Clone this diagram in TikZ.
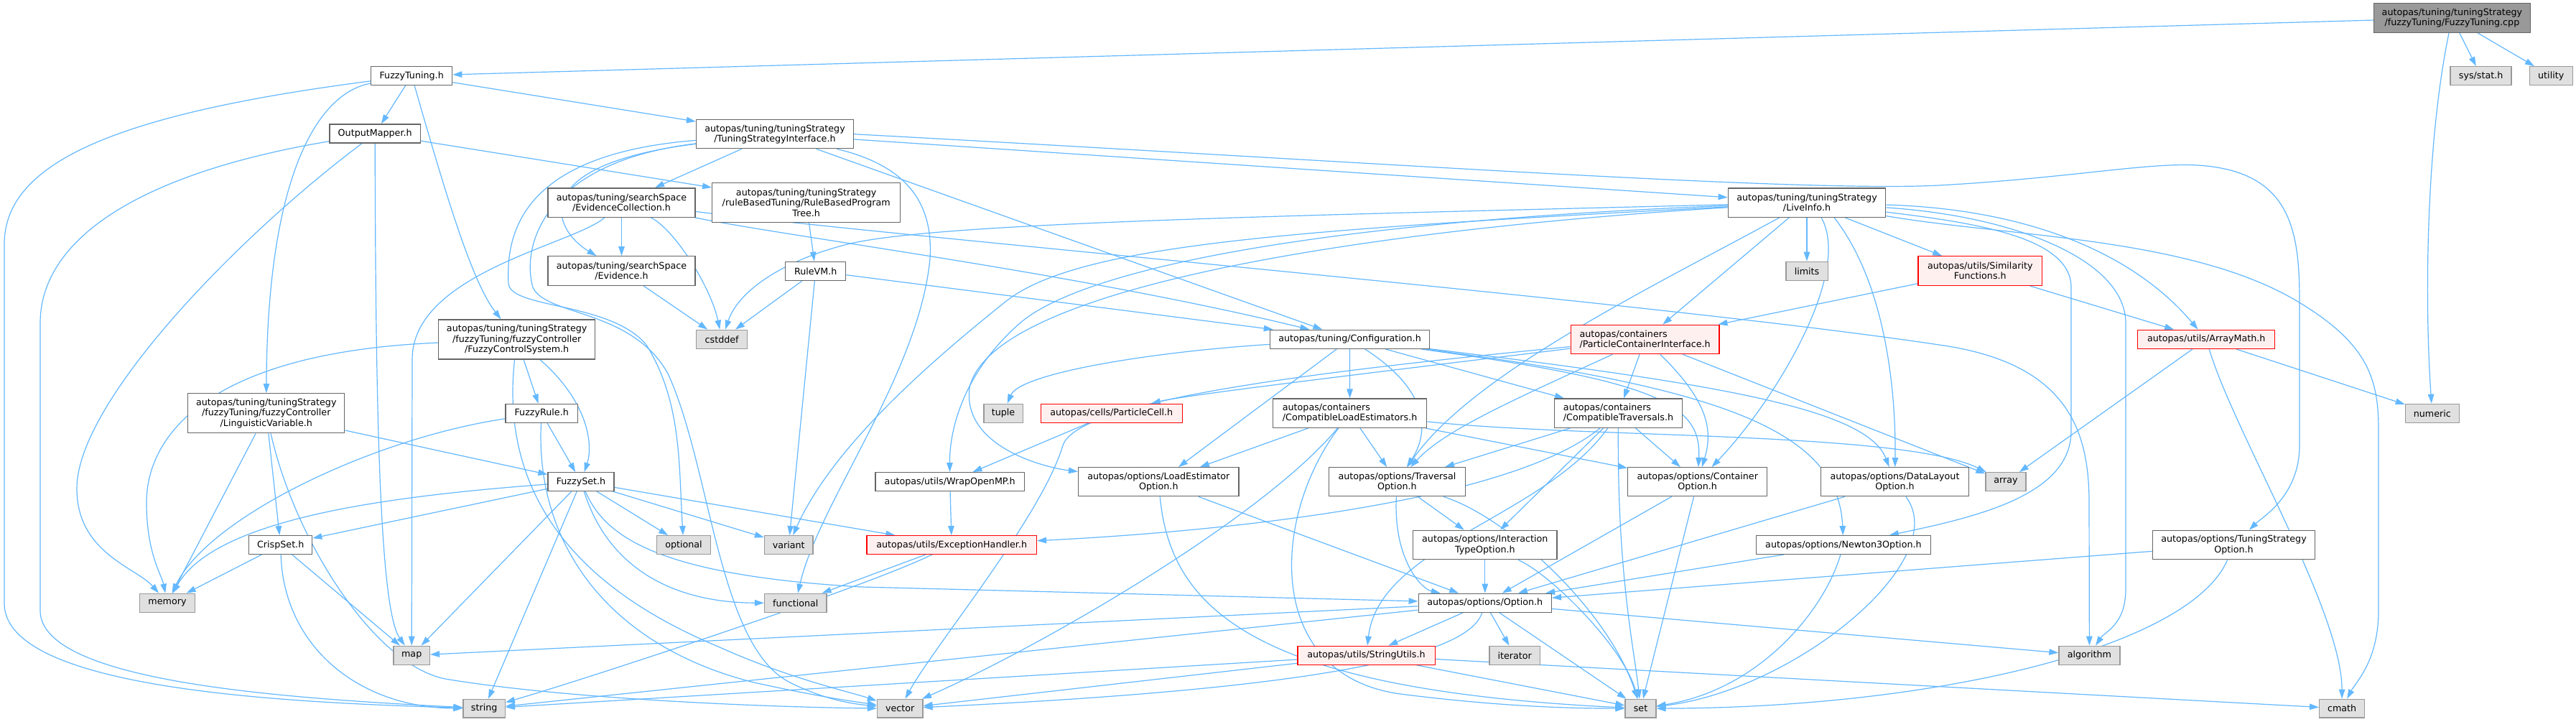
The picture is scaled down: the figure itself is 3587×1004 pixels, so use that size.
\documentclass[tikz,border=0pt]{standalone}
\usepackage{fontspec}
\setmainfont{DejaVu Sans}
\usetikzlibrary{arrows.meta}
\definecolor{eb}{HTML}{63B8FF}
\definecolor{gb}{HTML}{666666}
\definecolor{sb}{HTML}{999999}
\definecolor{sf}{HTML}{E0E0E0}
\definecolor{rf}{HTML}{FFF0F0}
\definecolor{rb}{HTML}{FF0000}
\pgfdeclarelayer{bg}
\pgfsetlayers{bg,main}
\tikzset{
  n/.style={draw=gb, fill=white, line width=1.3pt, inner sep=0pt, align=center,
    font=\fontsize{12.7}{14.3}\selectfont},
  sysn/.style={n, draw=sb, fill=sf},
  redn/.style={n, draw=rb, fill=rf},
  rootn/.style={n, draw=gb, fill=sb},
  B/.style 2 args={minimum width=#1pt, minimum height=#2pt},
  e/.style={draw=eb, line width=1.2pt, -{Triangle[length=13pt,width=8.5pt]}},
}
\begin{document}
\begin{tikzpicture}[x=1pt,y=1pt]
\useasboundingbox (0,0) rectangle (3587,-1004);
% nodes
\node[rootn,B={218}{40.6}] (cpp) at (3414.4,-25) {autopas/tuning/tuningStrategy\\/fuzzyTuning/FuzzyTuning.cpp};
\node[n,B={113}{25.6}] (ft) at (573.2,-105.5) {FuzzyTuning.h};
\node[sysn,B={85}{26}] (sys) at (3454.6,-105.7) {sys/stat.h};
\node[sysn,B={60}{26}] (util) at (3552.2,-105.7) {utility};
\node[n,B={126.4}{26}] (om) at (522.2,-186) {OutputMapper.h};
\node[n,B={219}{40}] (tsi) at (1079,-186.7) {autopas/tuning/tuningStrategy\\/TuningStrategyInterface.h};
\node[n,B={205}{40.3}] (ec) at (865.5,-282) {autopas/tuning/searchSpace\\/EvidenceCollection.h};
\node[n,B={262}{55}] (rbpt) at (1122.7,-282) {autopas/tuning/tuningStrategy\\/ruleBasedTuning/RuleBasedProgram\\Tree.h};
\node[n,B={219.5}{40.3}] (li) at (2516,-282) {autopas/tuning/tuningStrategy\\/LiveInfo.h};
\node[n,B={205}{40.6}] (ev) at (865.5,-377) {autopas/tuning/searchSpace\\/Evidence.h};
\node[n,B={84.2}{26}] (rvm) at (1135.7,-377.3) {RuleVM.h};
\node[sysn,B={58.3}{26}] (lim) at (2516,-377.3) {limits};
\node[redn,B={172.6}{40.6}] (sim) at (2757.3,-377) {autopas/utils/Similarity\\Functions.h};
\node[n,B={218}{55}] (fcs) at (719.7,-472.5) {autopas/tuning/tuningStrategy\\/fuzzyTuning/fuzzyController\\/FuzzyControlSystem.h};
\node[sysn,B={71.2}{26}] (cst) at (1005.2,-472.3) {cstddef};
\node[n,B={222}{26}] (conf) at (1879.5,-472.3) {autopas/tuning/Configuration.h};
\node[redn,B={206.7}{40.4},align=left] (pci) at (2290.6,-472.5) {autopas/containers\\/ParticleContainerInterface.h};
\node[redn,B={190.8}{26}] (am) at (3072.2,-472.3) {autopas/utils/ArrayMath.h};
\node[n,B={218}{55}] (lv) at (370.8,-575.2) {autopas/tuning/tuningStrategy\\/fuzzyTuning/fuzzyController\\/LinguisticVariable.h};
\node[n,B={100.3}{26}] (fr) at (754.2,-575.3) {FuzzyRule.h};
\node[sysn,B={54.3}{26}] (tup) at (1397,-575.3) {tuple};
\node[redn,B={196.7}{26}] (pc) at (1547.8,-575.3) {autopas/cells/ParticleCell.h};
\node[n,B={214.3}{40.3},align=left] (cle) at (1879.6,-575.2) {autopas/containers\\/CompatibleLoadEstimators.h};
\node[n,B={178.3}{40.3},align=left] (ctr) at (2253.5,-575.2) {autopas/containers\\/CompatibleTraversals.h};
\node[sysn,B={75}{26}] (num) at (3386.8,-575.3) {numeric};
\node[n,B={92}{25.6}] (fs) at (809,-670.5) {FuzzySet.h};
\node[n,B={207.5}{25.6}] (womp) at (1322.7,-670.5) {autopas/utils/WrapOpenMP.h};
\node[n,B={223.5}{40}] (leo) at (1613.3,-670.7) {autopas/options/LoadEstimator\\Option.h};
\node[n,B={189.8}{40}] (to) at (1945.4,-670.7) {autopas/options/Traversal\\Option.h};
\node[n,B={194}{40}] (co) at (2363.7,-670.7) {autopas/options/Container\\Option.h};
\node[n,B={206}{40}] (dlo) at (2638.5,-670.7) {autopas/options/DataLayout\\Option.h};
\node[sysn,B={56}{25.6}] (arr) at (2792.9,-670.5) {array};
\node[n,B={88}{25.6}] (cs) at (390.7,-758.5) {CrispSet.h};
\node[sysn,B={75}{25.6}] (opt) at (952,-758.5) {optional};
\node[sysn,B={67.4}{25.6}] (var) at (1098.2,-758.5) {variant};
\node[redn,B={236.5}{25.6}] (eh) at (1325.2,-758.5) {autopas/utils/ExceptionHandler.h};
\node[n,B={200.5}{40.4}] (ito) at (2067.8,-758.5) {autopas/options/Interaction\\TypeOption.h};
\node[n,B={243}{25.6}] (n3o) at (2566.9,-758.5) {autopas/options/Newton3Option.h};
\node[n,B={226.3}{40.4}] (tso) at (3110.5,-758.5) {autopas/options/TuningStrategy\\Option.h};
\node[sysn,B={77.3}{26}] (mem) at (233,-839.3) {memory};
\node[sysn,B={86.5}{26}] (fun) at (1107.8,-839.3) {functional};
\node[n,B={185.2}{26}] (opn) at (2067.8,-839.3) {autopas/options/Option.h};
\node[sysn,B={84.9}{26}] (alg) at (2909.4,-912.3) {algorithm};
\node[sysn,B={50.5}{26}] (map) at (573.2,-912.3) {map};
\node[redn,B={191.3}{26}] (su) at (1902.5,-912.3) {autopas/utils/StringUtils.h};
\node[sysn,B={70.4}{26}] (it) at (2109.2,-912.3) {iterator};
\node[sysn,B={58.3}{25.7}] (str) at (674.2,-986.2) {string};
\node[sysn,B={63.5}{25.7}] (vec) at (1253.2,-986.2) {vector};
\node[sysn,B={42.9}{25.7}] (set) at (2284.5,-986.2) {set};
\node[sysn,B={62.8}{25.7}] (cmath) at (3261.1,-986.2) {cmath};
\begin{pgfonlayer}{bg}
\fill[white] (0,0) rectangle (3587,-1004);
% cpp
\draw[e] (cpp) -- (ft);
\draw[e] (cpp) -- (sys);
\draw[e] (cpp) -- (util);
\draw[e] (cpp) .. controls (3378,-200) and (3376,-420) .. (num);
% ft
\draw[e] (ft) -- (om);
\draw[e] (ft) -- (tsi);
\draw[e] (ft) .. controls (615,-250) and (655,-390) .. (fcs);
\draw[e] (ft) .. controls (440,-130) and (372,-250) .. (lv);
\draw[e] (ft) .. controls (150,-160) and (6,-230) .. (6,-340) -- (6,-840) .. controls (6,-960) and (400,-978) .. (str);
% om
\draw[e] (om) -- (rbpt);
\draw[e] (om) .. controls (523,-600) and (530,-850) .. (map);
\draw[e] (om) .. controls (200,-240) and (56,-330) .. (56,-450) -- (56,-850) .. controls (56,-950) and (400,-972) .. (str);
\draw[e] (om) .. controls (330,-330) and (107,-560) .. (107,-680) .. controls (107,-770) and (190,-790) .. (mem);
% tsi
\draw[e] (tsi) -- (ec);
\draw[e] (tsi) -- (li);
\draw[e] (tsi) -- (conf);
\draw[e] (tsi.east) .. controls (1900,-225) and (2500,-268) .. (2700,-258) .. controls (2880,-248) and (2990,-226) .. (3060,-230) .. controls (3190,-238) and (3202,-320) .. (3202,-420) -- (3202,-620) .. controls (3202,-690) and (3150,-720) .. (tso);
\draw[e] (tsi) .. controls (730,-230) and (770,-320) .. (ev);
\draw[e] (tsi) .. controls (720,-215) and (705,-330) .. (708,-395) .. controls (712,-430) and (850,-420) .. (900,-480) .. controls (950,-560) and (945,-650) .. (opt);
\draw[e] (tsi) .. controls (760,-225) and (725,-340) .. (742,-400) .. controls (760,-440) and (880,-430) .. (930,-520) .. controls (990,-650) and (1000,-900) .. (1100,-950) .. controls (1150,-975) and (1190,-980) .. (vec);
\draw[e] (tsi) .. controls (1260,-230) and (1300,-280) .. (1295,-360) .. controls (1280,-520) and (1140,-700) .. (fun);
% ec
\draw[e] (ec) -- (ev);
\draw[e] (ec) .. controls (940,-320) and (990,-400) .. (cst);
\draw[e] (ec) .. controls (1100,-330) and (1500,-380) .. (conf);
\draw[e] (ec) .. controls (1300,-335) and (2300,-420) .. (2700,-480) .. controls (2880,-505) and (2909,-600) .. (2909,-700) -- (alg);
\draw[e] (ec) .. controls (800,-340) and (574,-380) .. (574,-500) -- (map);
\draw[e] (ev) -- (cst);
\draw[e] (rbpt) -- (rvm);
\draw[e] (rvm) -- (cst);
\draw[e] (rvm) -- (conf);
\draw[e] (rvm) -- (var);
% fcs
\draw[e] (fcs) -- (fr);
\draw[e] (fcs) .. controls (820,-560) and (826,-620) .. (fs);
\draw[e] (fcs) .. controls (300,-490) and (204,-600) .. (204,-700) .. controls (204,-770) and (225,-800) .. (mem);
\draw[e] (fcs) .. controls (700,-650) and (760,-800) .. (1000,-900) .. controls (1100,-945) and (1180,-962) .. (vec);
% lv
\draw[e] (lv) -- (fs);
\draw[e] (lv) -- (cs);
\draw[e] (lv) -- (mem);
\draw[e] (lv) .. controls (410,-750) and (520,-925) .. (620,-945) .. controls (800,-975) and (1100,-985) .. (vec);
% fr
\draw[e] (fr) -- (fs);
\draw[e] (fr) .. controls (520,-610) and (290,-720) .. (mem);
\draw[e] (fr) .. controls (745,-760) and (850,-900) .. (1050,-950) .. controls (1150,-972) and (1200,-978) .. (vec);
% fs
\draw[e] (fs) -- (cs);
\draw[e] (fs) .. controls (550,-690) and (300,-720) .. (mem);
\draw[e] (fs) -- (map);
\draw[e] (fs) -- (str);
\draw[e] (fs) -- (opt);
\draw[e] (fs) -- (var);
\draw[e] (fs) .. controls (850,-800) and (950,-839) .. (fun);
\draw[e] (fs) .. controls (840,-740) and (900,-800) .. (1200,-817) -- (opn);
\draw[e] (fs) -- (eh);
% cs
\draw[e] (cs) -- (mem);
\draw[e] (cs) -- (map);
\draw[e] (cs) .. controls (395,-900) and (500,-985) .. (str);
\draw[e] (pc) -- (womp);
\draw[e] (womp) -- (eh);
% cle
\draw[e] (cle) -- (leo);
\draw[e] (cle) -- (to);
\draw[e] (cle) -- (co);
\draw[e] (cle) .. controls (1760,-720) and (1450,-900) .. (vec);
\draw[e] (cle) .. controls (1770,-720) and (1760,-940) .. (1950,-966) .. controls (2100,-985) and (2200,-986) .. (set);
\draw[e] (cle) .. controls (2200,-610) and (2650,-600) .. (arr);
% ctr
\draw[e] (ctr) -- (to);
\draw[e] (ctr) -- (co);
\draw[e] (ctr) -- (ito);
\draw[e] (ctr) .. controls (2150,-720) and (1920,-760) .. (su);
\draw[e] (ctr) .. controls (2252,-800) and (2275,-900) .. (set);
\draw[e] (ctr) .. controls (2100,-700) and (1700,-740) .. (eh);
% pci
\draw[e] (pci) -- (ctr);
\draw[e] (pci) .. controls (2380,-560) and (2385,-600) .. (co);
\draw[e] (pci) .. controls (2100,-560) and (2010,-600) .. (to);
\draw[e] (pci) -- (arr);
\draw[e] (pci) .. controls (1900,-520) and (1650,-550) .. (pc);
\draw[e] (pci) .. controls (1800,-520) and (1500,-560) .. (1480,-620) .. controls (1450,-720) and (1300,-900) .. (vec);
% conf
\draw[e] (conf) .. controls (1600,-490) and (1420,-520) .. (tup);
\draw[e] (conf) -- (leo);
\draw[e] (conf) -- (cle);
\draw[e] (conf) .. controls (2000,-550) and (1985,-610) .. (to);
\draw[e] (conf) -- (ctr);
\draw[e] (conf) .. controls (2300,-530) and (2370,-560) .. (co);
\draw[e] (conf) .. controls (2400,-535) and (2600,-570) .. (dlo);
\draw[e] (conf) .. controls (2400,-540) and (2560,-600) .. (n3o);
% options
\draw[e] (leo) -- (opn);
\draw[e] (leo) .. controls (1630,-850) and (1750,-960) .. (set);
\draw[e] (to) -- (ito);
\draw[e] (to) .. controls (1940,-780) and (1980,-820) .. (opn);
\draw[e] (to) .. controls (2100,-720) and (2240,-850) .. (set);
\draw[e] (co) -- (opn);
\draw[e] (co) -- (set);
\draw[e] (dlo) -- (opn);
\draw[e] (dlo) .. controls (2720,-780) and (2500,-960) .. (set);
\draw[e] (n3o) -- (opn);
\draw[e] (n3o) .. controls (2540,-850) and (2450,-960) .. (set);
\draw[e] (ito) -- (opn);
\draw[e] (ito) .. controls (2160,-800) and (2260,-900) .. (set);
\draw[e] (tso) -- (opn);
\draw[e] (tso) .. controls (3050,-900) and (2700,-985) .. (set);
\draw[e] (eh) .. controls (1200,-820) and (800,-950) .. (str);
\draw[e] (eh) -- (fun);
\draw[e] (opn) -- (map);
\draw[e] (opn) -- (str);
\draw[e] (opn) -- (su);
\draw[e] (opn) .. controls (2040,-930) and (1700,-965) .. (vec);
\draw[e] (opn) -- (it);
\draw[e] (opn) -- (set);
\draw[e] (opn) -- (alg);
\draw[e] (su) -- (str);
\draw[e] (su) -- (vec);
\draw[e] (su) -- (set);
\draw[e] (su) -- (cmath);
\draw[e] (am) -- (arr);
\draw[e] (am) -- (num);
\draw[e] (am) .. controls (3110,-600) and (3261,-850) .. (cmath);
\draw[e] (sim) -- (pci);
\draw[e] (sim) -- (am);
% li
\draw[e] (li) -- (lim);
\draw[e] (li) -- (sim);
\draw[e] (li) -- (pci);
\draw[e] (li) .. controls (2800,-290) and (2960,-340) .. (am);
\draw[e] ([xshift=20pt]li.south) .. controls (2580,-380) and (2470,-560) .. (co);
\draw[e] ([xshift=38pt]li.south) .. controls (2630,-400) and (2640,-560) .. (dlo);
\draw[e] (li) .. controls (2750,-310) and (2884,-330) .. (2884,-400) -- (2884,-600) .. controls (2884,-690) and (2750,-720) .. (n3o);
\draw[e] (li) .. controls (2300,-400) and (2050,-520) .. (to);
\draw[e] (li) .. controls (1900,-320) and (1380,-400) .. (1350,-540) .. controls (1340,-620) and (1450,-650) .. (leo);
\draw[e] (li) .. controls (1800,-310) and (1500,-380) .. (1420,-450) .. controls (1340,-520) and (1322,-600) .. (womp);
\draw[e] (li) .. controls (1800,-300) and (1300,-310) .. (1180,-340) .. controls (1100,-360) and (1030,-400) .. (cst);
\draw[e] (li) .. controls (1800,-320) and (1500,-340) .. (1400,-420) .. controls (1300,-500) and (1160,-620) .. (var);
\draw[e] (li) .. controls (2800,-300) and (2960,-360) .. (2960,-450) -- (2960,-820) .. controls (2960,-870) and (2930,-880) .. (alg);
\draw[e] (li) .. controls (2800,-330) and (3050,-330) .. (3200,-420) .. controls (3300,-480) and (3312,-530) .. (3312,-600) -- (3312,-850) .. controls (3312,-920) and (3280,-950) .. (cmath);
\end{pgfonlayer}
\end{tikzpicture}
\end{document}
